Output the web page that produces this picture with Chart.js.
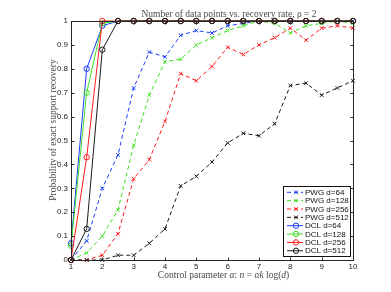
<!DOCTYPE html>
<html>
<head>
<meta charset="utf-8">
<script src="https://cdn.jsdelivr.net/npm/chart.js@4/dist/chart.umd.min.js"></script>
<style>
html,body{margin:0;padding:0;background:#fff;}
#wrap{width:391px;height:292px;position:relative;}
</style>
</head>
<body>
<div id="wrap"><canvas id="c" width="391" height="292"></canvas></div>
<script>
// ---- data ----
const alphaValues = [1, 1.5, 2, 2.5, 3, 3.5, 4, 4.5, 5, 5.5, 6, 6.5, 7, 7.5, 8, 8.5, 9, 9.5, 10];
const pwg64  = [0, 0.08, 0.30, 0.44, 0.72, 0.87, 0.85, 0.94, 0.96, 0.95, 0.98, 0.99, 1.00, 1.00, 1.00, 1.00, 1.00, 1.00, 1.00];
const pwg128 = [0, 0.03, 0.10, 0.21, 0.48, 0.69, 0.83, 0.84, 0.90, 0.93, 0.96, 0.98, 1.00, 0.99, 0.95, 0.98, 0.99, 1.00, 0.99];
const pwg256 = [0, 0, 0.02, 0.11, 0.34, 0.42, 0.58, 0.78, 0.75, 0.81, 0.89, 0.86, 0.90, 0.93, 0.97, 0.92, 0.97, 0.98, 0.97];
const pwg512 = [0, 0, 0, 0.02, 0.02, 0.07, 0.13, 0.31, 0.35, 0.41, 0.49, 0.53, 0.52, 0.57, 0.73, 0.74, 0.69, 0.72, 0.75];
const dcl64  = [0.07, 0.80, 0.98, 1, 1, 1, 1, 1, 1, 1, 1, 1, 1, 1, 1, 1, 1, 1, 1];
const dcl128 = [0.06, 0.70, 0.99, 1, 1, 1, 1, 1, 1, 1, 1, 1, 1, 1, 1, 1, 1, 1, 1];
const dcl256 = [0, 0.43, 1.00, 1, 1, 1, 1, 1, 1, 1, 1, 1, 1, 1, 1, 1, 1, 1, 1];
const dcl512 = [0, 0.13, 0.88, 1, 1, 1, 1, 1, 1, 1, 1, 1, 1, 1, 1, 1, 1, 1, 1];
const seriesLabels = ['PWG d=64', 'PWG d=128', 'PWG d=256', 'PWG d=512', 'DCL d=64', 'DCL d=128', 'DCL d=256', 'DCL d=512'];
const xTickValues = [1, 2, 3, 4, 5, 6, 7, 8, 9, 10];
const xTickLabels = ['1', '2', '3', '4', '5', '6', '7', '8', '9', '10'];
const yTickValues = [0, 0.1, 0.2, 0.3, 0.4, 0.5, 0.6, 0.7, 0.8, 0.9, 1];
const yTickLabels = ['0', '0.1', '0.2', '0.3', '0.4', '0.5', '0.6', '0.7', '0.8', '0.9', '1'];
const titleText = 'Number of data points vs. recovery rate, \u03c1 = 2';
const yTitleText = 'Probability of exact support recovery';

// ---- styles ----
const COLORS = ['#1a3cff', '#3ee020', '#ff1a1a', '#1a1a1a'];
const allSeries = [pwg64, pwg128, pwg256, pwg512, dcl64, dcl128, dcl256, dcl512];

const datasets = allSeries.map((vals, i) => {
  const isPWG = i < 4;
  const col = COLORS[i % 4];
  return {
    label: seriesLabels[i],
    data: alphaValues.map((x, k) => ({x: x, y: vals[k]})),
    borderColor: col,
    backgroundColor: 'rgba(0,0,0,0)',
    borderWidth: 1,
    borderDash: isPWG ? [4, 3] : [],
    pointStyle: isPWG ? 'crossRot' : 'circle',
    pointRadius: isPWG ? 2.6 : 2.7,
    pointBorderColor: col,
    pointBackgroundColor: 'rgba(0,0,0,0)',
    pointBorderWidth: 1,
    tension: 0,
    clip: false,
    order: 8 - i
  };
});

const SANS = '"Liberation Sans", Arial, sans-serif';
const SERIF = '"Liberation Serif", "DejaVu Serif", serif';
const LABEL_SIZE = 9.5;
const LABEL_COLOR = '#4a4a4a';

const decorPlugin = {
  id: 'decor',
  afterDraw(chart) {
    const ctx = chart.ctx;
    const a = chart.chartArea;
    const xs = chart.scales.x, ys = chart.scales.y;
    ctx.save();
    // box
    ctx.strokeStyle = '#262626';
    ctx.lineWidth = 1;
    ctx.setLineDash([]);
    const L = Math.round(a.left) + 0.5, R = Math.round(a.right) + 0.5;
    const T = Math.round(a.top) + 0.5, B = Math.round(a.bottom) + 0.5;
    ctx.strokeRect(L, T, R - L, B - T);
    // inward ticks
    const tl = 3;
    ctx.beginPath();
    xTickValues.forEach(v => {
      const px = Math.round(xs.getPixelForValue(v)) + 0.5;
      ctx.moveTo(px, B); ctx.lineTo(px, B - tl);
      ctx.moveTo(px, T); ctx.lineTo(px, T + tl);
    });
    yTickValues.forEach(v => {
      const py = Math.round(ys.getPixelForValue(v)) + 0.5;
      ctx.moveTo(L, py); ctx.lineTo(L + tl, py);
      ctx.moveTo(R, py); ctx.lineTo(R - tl, py);
    });
    ctx.stroke();

    // title
    ctx.fillStyle = LABEL_COLOR;
    ctx.font = LABEL_SIZE + 'px ' + SERIF;
    ctx.textAlign = 'center';
    ctx.textBaseline = 'middle';
    ctx.fillText(titleText, 229, 14);

    // x-axis title with italic math
    const parts = [
      ['Control parameter ', false], ['\u03b1', true], [': ', false], ['n', true],
      [' = ', false], ['\u03b1k', true], [' log(', false], ['d', true], [')', false]
    ];
    let total = 0;
    parts.forEach(p => { ctx.font = (p[1] ? 'italic ' : '') + LABEL_SIZE + 'px ' + SERIF; total += ctx.measureText(p[0]).width; });
    let xx = 223.5 - total / 2;
    ctx.textAlign = 'left';
    parts.forEach(p => {
      ctx.font = (p[1] ? 'italic ' : '') + LABEL_SIZE + 'px ' + SERIF;
      ctx.fillText(p[0], xx, 275.5);
      xx += ctx.measureText(p[0]).width;
    });

    // y-axis title
    ctx.save();
    ctx.translate(53, 130);
    ctx.rotate(-Math.PI / 2);
    ctx.font = LABEL_SIZE + 'px ' + SERIF;
    ctx.textAlign = 'center';
    ctx.fillText(yTitleText, 0, 0);
    ctx.restore();

    // legend
    const bx = 283.5, by = 186.5, bw = 67, bh = 70;
    ctx.fillStyle = '#fff';
    ctx.fillRect(bx, by, bw, bh);
    ctx.strokeStyle = '#111';
    ctx.strokeRect(bx, by, bw, bh);
    chart.data.datasets.forEach((ds, i) => {
      const y = 192.3 + i * 8.35;
      ctx.strokeStyle = ds.borderColor;
      ctx.lineWidth = 1;
      ctx.setLineDash(ds.borderDash);
      ctx.beginPath();
      ctx.moveTo(287, y); ctx.lineTo(303, y);
      ctx.stroke();
      ctx.setLineDash([]);
      const mx = 296, r = ds.pointRadius;
      ctx.beginPath();
      if (ds.pointStyle === 'circle') {
        ctx.arc(mx, y, r, 0, Math.PI * 2);
      } else {
        const d = r * Math.SQRT1_2;
        ctx.moveTo(mx - d, y - d); ctx.lineTo(mx + d, y + d);
        ctx.moveTo(mx + d, y - d); ctx.lineTo(mx - d, y + d);
      }
      ctx.stroke();
      ctx.fillStyle = '#111';
      ctx.font = '8px ' + SANS;
      ctx.textAlign = 'left';
      ctx.textBaseline = 'middle';
      ctx.fillText(ds.label, 305, y + 0.5);
    });
    ctx.restore();
  }
};

new Chart(document.getElementById('c'), {
  type: 'line',
  data: { datasets: datasets },
  options: {
    responsive: false,
    animation: false,
    events: [],
    layout: { padding: { top: 21, right: 38, left: 0, bottom: 0 } },
    plugins: { legend: { display: false }, tooltip: { enabled: false }, title: { display: false } },
    scales: {
      x: {
        type: 'linear', min: 1, max: 10,
        afterBuildTicks: s => { s.ticks = xTickValues.map(v => ({value: v})); },
        afterFit: s => { s.height = 32; },
        grid: { display: false, drawTicks: false },
        border: { display: false },
        ticks: {
          padding: 2, autoSkip: false, maxRotation: 0,
          color: '#222', font: { family: SANS, size: 8 },
          callback: (v, i) => xTickLabels[i]
        }
      },
      y: {
        type: 'linear', min: 0, max: 1,
        afterBuildTicks: s => { s.ticks = yTickValues.map(v => ({value: v})); },
        afterFit: s => { s.width = 71; },
        grid: { display: false, drawTicks: false },
        border: { display: false },
        ticks: {
          padding: 3, autoSkip: false,
          color: '#222', font: { family: SANS, size: 8 },
          callback: (v, i) => yTickLabels[i]
        }
      }
    }
  },
  plugins: [decorPlugin]
});
</script>
</body>
</html>
